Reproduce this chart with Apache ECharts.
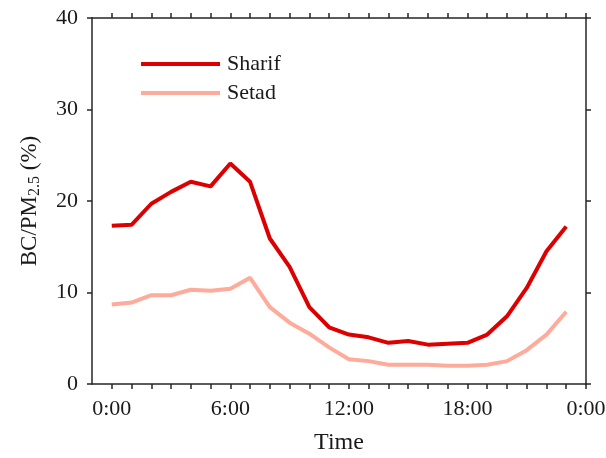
<!DOCTYPE html>
<html>
<head>
<meta charset="utf-8">
<script src="https://cdn.jsdelivr.net/npm/echarts@6/dist/echarts.min.js"></script>
<style>
  html, body { margin: 0; padding: 0; background: #fff; }
  #main { width: 606px; height: 458px; }
</style>
</head>
<body>
<div id="main"></div>
<script>
// hours of the day, one point per hour
const hours = [0, 1, 2, 3, 4, 5, 6, 7, 8, 9, 10, 11, 12, 13, 14, 15, 16, 17, 18, 19, 20, 21, 22, 23]
const sharif = [17.3, 17.4, 19.7, 21.0, 22.1, 21.6, 24.1, 22.1, 15.9, 12.8, 8.4, 6.2, 5.4, 5.1, 4.5, 4.7, 4.3, 4.4, 4.5, 5.4, 7.4, 10.5, 14.5, 17.2]
const setad = [8.7, 8.9, 9.7, 9.7, 10.3, 10.2, 10.4, 11.6, 8.4, 6.7, 5.5, 4.0, 2.7, 2.5, 2.1, 2.1, 2.1, 2.0, 2.0, 2.1, 2.5, 3.7, 5.4, 7.9]
const tickHours = [0, 1, 2, 3, 4, 5, 6, 7, 8, 9, 10, 11, 12, 13, 14, 15, 16, 17, 18, 19, 20, 21, 22, 23, 24]
const labelHours = [0, 6, 12, 18, 24]
const yTicks = [0, 10, 20, 30, 40]

const font = 'Liberation Serif'
const axisColor = '#262626'
const textColor = '#1a1a1a'

const chart = echarts.init(document.getElementById('main'))

const xBase = {
  type: 'value',
  min: -1,
  max: 24,
  splitLine: { show: false },
  axisLine: { show: true, onZero: false, lineStyle: { color: axisColor, width: 1.5 } },
  axisTick: { show: true, length: 5, customValues: tickHours, lineStyle: { color: axisColor, width: 1.5 } }
}
const yBase = {
  type: 'value',
  min: 0,
  max: 40,
  interval: 10,
  splitLine: { show: false },
  axisLine: { show: true, onZero: false, lineStyle: { color: axisColor, width: 1.5 } },
  axisTick: { show: true, length: 5, lineStyle: { color: axisColor, width: 1.5 } }
}

const option = {
  animation: false,
  textStyle: { fontFamily: font },
  grid: { left: 92, right: 20, top: 18, bottom: 74, outerBoundsMode: 'none', containLabel: false },
  legend: {
    orient: 'vertical',
    left: 136,
    top: 48,
    itemWidth: 79,
    itemHeight: 4,
    itemGap: 7,
    icon: 'rect',
    textStyle: { fontFamily: font, fontSize: 22, color: textColor, padding: [0, 0, 0, 2] },
    data: ['Sharif', 'Setad']
  },
  xAxis: [
    Object.assign({}, xBase, {
      position: 'bottom',
      name: 'Time',
      nameLocation: 'middle',
      nameGap: 47,
      nameTextStyle: { fontFamily: font, fontSize: 24, color: textColor },
      axisLabel: {
        customValues: labelHours,
        margin: 14,
        fontFamily: font,
        fontSize: 22,
        color: textColor,
        formatter: (v) => (v % 24) + ':00'
      }
    }),
    Object.assign({}, xBase, { position: 'top', axisLabel: { show: false } })
  ],
  yAxis: [
    Object.assign({}, yBase, {
      position: 'left',
      name: '{a|BC/PM}{s|2.5}{a| (%)}',
      nameLocation: 'middle',
      nameGap: 49,
      nameTextStyle: {
        rich: {
          a: { fontFamily: font, fontSize: 23, color: textColor },
          s: { fontFamily: font, fontSize: 16, color: textColor, verticalAlign: 'bottom', padding: [10, 0, 0, 0] }
        }
      },
      axisLabel: {
        customValues: yTicks,
        margin: 14,
        fontFamily: font,
        fontSize: 22,
        color: textColor
      }
    }),
    Object.assign({}, yBase, { position: 'right', axisLabel: { show: false } })
  ],
  series: [
    {
      name: 'Sharif',
      type: 'line',
      symbol: 'none',
      lineStyle: { color: '#dd0000', width: 4 },
      itemStyle: { color: '#dd0000' },
      data: hours.map((h, i) => [h, sharif[i]])
    },
    {
      name: 'Setad',
      type: 'line',
      symbol: 'none',
      lineStyle: { color: '#ffab9b', width: 4 },
      itemStyle: { color: '#ffab9b' },
      data: hours.map((h, i) => [h, setad[i]])
    }
  ]
}

chart.setOption(option)
</script>
</body>
</html>
